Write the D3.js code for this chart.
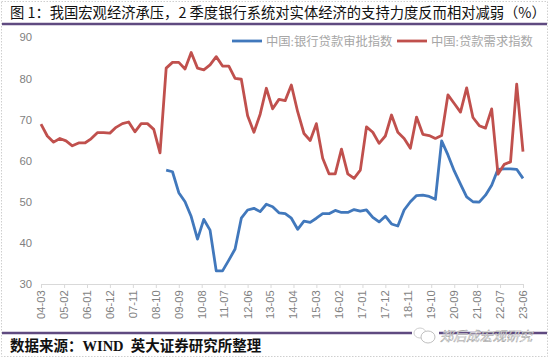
<!DOCTYPE html>
<html>
<head>
<meta charset="utf-8">
<script src="https://cdn.jsdelivr.net/npm/d3@7"></script>
<style>
  body { margin: 0; background: #fff; }
  svg { display: block; }
  .axis path, .axis line { stroke: #d9d9d9; }
  .axis text { fill: #7f7f7f; font-family: "Liberation Sans", sans-serif; }
</style>
</head>
<body>
<div id="chart"></div>
<script>
const titleText = "图 1：我国宏观经济承压，2 季度银行系统对实体经济的支持力度反而相对减弱（%）";
const sourceText = "数据来源：WIND  英大证券研究所整理";
const watermarkText = "郑后成宏观研究";

const yTicks = [30, 40, 50, 60, 70, 80, 90];
const xTickLabels = ["04-03", "05-02", "06-01", "06-12", "07-11", "08-10", "09-09", "10-08", "11-07", "12-06",
  "13-05", "14-04", "15-03", "16-02", "17-01", "17-12", "18-11", "19-10", "20-09", "21-08", "22-07", "23-06"];

// quarterly, 2004-03 to 2023-06
const loanDemand = [68.9, 66.0, 64.5, 65.4, 64.8, 63.6, 64.3, 64.3, 65.3, 66.8, 66.8, 66.7, 68.1, 69.0, 69.4, 67.0,
  69.0, 69.0, 67.6, 61.9, 82.5, 83.9, 83.9, 82.3, 86.3, 82.5, 82.1, 83.3, 85.3, 83.0, 83.0, 80.0, 79.8, 70.9, 66.9,
  71.3, 77.6, 72.6, 74.9, 74.6, 78.4, 71.9, 66.6, 64.9, 69.0, 60.6, 56.8, 56.8, 62.8, 56.8, 55.7, 57.7, 68.2, 66.9,
  64.2, 66.0, 71.1, 66.9, 65.4, 63.0, 70.6, 66.4, 66.1, 65.4, 66.1, 76.0, 73.9, 71.8, 77.7, 70.5, 68.5, 67.9, 72.6,
  56.7, 59.1, 59.7, 78.6, 62.2];
// series starts in 2009-03
const loanApproval = [null, null, null, null, null, null, null, null, null, null, null, null, null, null, null, null,
  null, null, null, null, 57.7, 57.3, 52.2, 50.0, 46.4, 40.9, 45.7, 43.1, 33.2, 33.2, 35.8, 38.5, 46.0, 48.0, 48.4,
  47.6, 49.4, 48.8, 47.3, 47.1, 46.0, 43.3, 45.3, 45.0, 46.0, 47.1, 47.1, 47.9, 47.4, 47.4, 48.1, 47.7, 48.0, 46.2,
  45.1, 46.5, 44.6, 44.1, 48.0, 50.0, 51.5, 51.6, 51.3, 50.6, 64.8, 61.4, 57.5, 54.3, 51.2, 50.0, 49.9, 51.6, 54.0,
  57.9, 58.0, 58.0, 57.9, 55.7];

const seriesNames = ["中国:银行贷款审批指数", "中国:贷款需求指数"];
const seriesColors = ["#4178bc", "#c0504d"];

const width = 550, height = 359;
const margin = { top: 37.3, right: 27, bottom: 75, left: 41 };

const svg = d3.select("#chart").append("svg")
  .attr("width", width)
  .attr("height", height);

const parseMonth = d3.timeParse("%y-%m");
const dates = d3.timeMonth.range(parseMonth("04-03"), parseMonth("23-07"), 3);

const xScale = d3.scaleTime()
  .domain(d3.extent(dates))
  .range([margin.left, width - margin.right]);

const yScale = d3.scaleLinear()
  .domain([30, 90])
  .range([height - margin.bottom, margin.top]);

// dotted frame of the pasted picture
svg.append("rect")
  .attr("x", 1.5).attr("y", 1.5)
  .attr("width", 546).attr("height", 355)
  .attr("fill", "none")
  .attr("stroke", "#cfcfcf")
  .attr("stroke-dasharray", "1.5,1.5");

svg.append("text")
  .attr("x", 10).attr("y", 18)
  .attr("font-family", "'Noto Sans CJK SC'")
  .attr("font-size", 14.3)
  .attr("fill", "#111")
  .text(titleText);

[24, 333].forEach(y => {
  svg.append("line")
    .attr("x1", 2).attr("x2", 547)
    .attr("y1", y).attr("y2", y)
    .attr("stroke", "#5f4a80")
    .attr("stroke-width", 2.4);
});

svg.append("text")
  .attr("x", 10).attr("y", 351)
  .attr("font-family", "'Liberation Serif', 'Noto Sans CJK SC'")
  .attr("font-weight", "bold")
  .attr("font-size", 14.5)
  .attr("fill", "#111")
  .style("white-space", "pre")
  .text(sourceText);

const xAxis = d3.axisBottom(xScale)
  .tickValues(xTickLabels.map(parseMonth))
  .tickFormat(d3.timeFormat("%y-%m"))
  .tickSize(4)
  .tickSizeOuter(0);

svg.append("g")
  .attr("class", "axis x-axis")
  .attr("transform", `translate(0, ${height - margin.bottom})`)
  .call(xAxis)
  .selectAll("text")
  .attr("font-size", 11.3)
  .style("text-anchor", "end")
  .attr("dx", "-.55em")
  .attr("dy", "-.32em")
  .attr("transform", "rotate(-90)");

const yAxis = d3.axisLeft(yScale)
  .tickValues(yTicks)
  .tickSize(0)
  .tickPadding(9);

const yAxisGroup = svg.append("g")
  .attr("class", "axis y-axis")
  .attr("transform", `translate(${margin.left}, 0)`)
  .call(yAxis);
yAxisGroup.select(".domain").remove();
yAxisGroup.selectAll("text").attr("font-size", 11.3);

const line = d3.line()
  .defined(d => d != null)
  .x((d, i) => xScale(dates[i]))
  .y(d => yScale(d));

svg.selectAll(".series")
  .data([loanApproval, loanDemand])
  .enter().append("path")
  .attr("class", "series")
  .attr("fill", "none")
  .attr("stroke", (d, i) => seriesColors[i])
  .attr("stroke-width", 2.8)
  .attr("stroke-linejoin", "round")
  .attr("d", line);

// legend
const legendX = [232, 397];
const legend = svg.selectAll(".legend")
  .data(seriesNames)
  .enter().append("g")
  .attr("class", "legend")
  .attr("transform", (d, i) => `translate(${legendX[i]}, 41)`);

legend.append("line")
  .attr("x1", 0).attr("x2", 30)
  .attr("stroke", (d, i) => seriesColors[i])
  .attr("stroke-width", 2.8);

legend.append("text")
  .attr("x", 34).attr("y", 4.5)
  .attr("font-family", "'Liberation Serif', 'Noto Sans CJK SC'")
  .attr("font-size", 12.3)
  .attr("fill", "#a6a6a6")
  .text(d => d);

// watermark
const mark = svg.append("g");
mark.append("rect")
  .attr("x", 412).attr("y", 328)
  .attr("width", 27).attr("height", 10)
  .attr("fill", "#fff");
mark.append("ellipse")
  .attr("cx", 420).attr("cy", 333).attr("rx", 6).attr("ry", 5)
  .attr("fill", "#fff").attr("stroke", "#cfcfcf");
mark.append("ellipse")
  .attr("cx", 428).attr("cy", 337).attr("rx", 7).attr("ry", 6)
  .attr("fill", "#fff").attr("stroke", "#c0c0c0");
mark.append("text")
  .attr("x", 440).attr("y", 341)
  .attr("font-family", "'Noto Sans CJK SC'")
  .attr("font-size", 13.2)
  .attr("font-style", "italic")
  .attr("fill", "#fff")
  .attr("stroke", "#8f8f8f")
  .attr("stroke-width", 0.4)
  .text(watermarkText);
</script>
</body>
</html>
